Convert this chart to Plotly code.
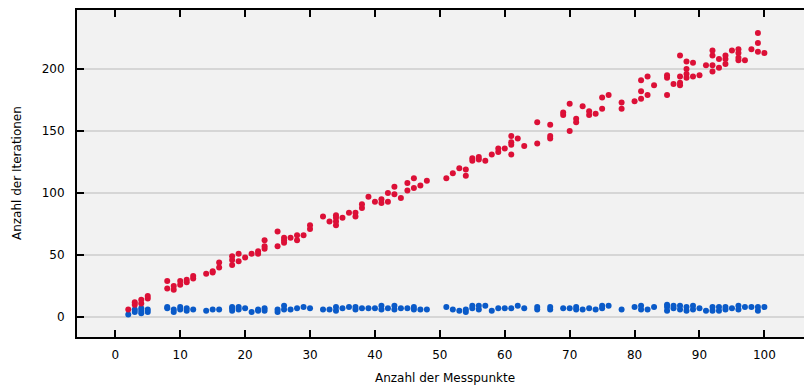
import plotly.graph_objects as go

# Red series (Anzahl der Iterationen, upper group)
red_x = [2, 3, 3, 4, 4, 5, 5, 8, 8, 9, 9, 10, 10, 11, 11, 12, 12, 14, 15, 15,
         16, 16, 18, 18, 18, 19, 19, 20, 21, 22, 22, 23, 23, 23, 25, 25, 26, 26, 26, 27,
         28, 28, 29, 30, 30, 32, 33, 34, 34, 34, 34, 35, 36, 37, 37, 38, 38, 39, 40, 41,
         41, 42, 42, 43, 43, 44, 45, 45, 46, 46, 47, 48, 51, 52, 53, 54, 54, 55, 55, 56,
         56, 57, 58, 59, 59, 60, 61, 61, 61, 61, 62, 63, 65, 65, 67, 67, 67, 69, 69, 70,
         70, 71, 71, 72, 73, 73, 74, 75, 75, 76, 78, 78, 80, 81, 81, 81, 82, 82, 83, 85,
         85, 85, 86, 87, 87, 87, 87, 88, 88, 88, 88, 89, 89, 90, 91, 92, 92, 92, 92, 93,
         93, 94, 94, 94, 95, 96, 96, 96, 96, 97, 98, 99, 99, 99, 100]
red_y = [6, 10, 12, 11, 14, 15, 17, 23, 29, 22, 25, 26, 29, 28, 30, 31, 33, 35, 36, 37,
         40, 44, 42, 46, 49, 45, 51, 48, 51, 51, 53, 55, 57, 62, 57, 69, 60, 62, 64, 64,
         62, 66, 66, 71, 74, 81, 77, 74, 77, 80, 82, 80, 84, 81, 84, 88, 91, 97, 93, 92,
         95, 93, 100, 99, 105, 96, 102, 108, 104, 112, 106, 110, 112, 116, 120, 114, 119, 126, 128, 127,
         129, 126, 131, 133, 136, 136, 131, 139, 141, 146, 144, 138, 140, 157, 144, 146, 155, 163, 165, 150,
         172, 157, 160, 170, 163, 166, 164, 168, 177, 179, 168, 173, 174, 176, 182, 191, 179, 194, 187, 179,
         193, 195, 188, 187, 189, 194, 211, 193, 196, 200, 206, 194, 205, 195, 203, 198, 203, 211, 215, 201,
         208, 204, 208, 211, 215, 207, 209, 213, 216, 207, 216, 214, 221, 229, 213]

# Blue series (lower group)
blue_x = [2, 3, 3, 4, 4, 4, 5, 5, 8, 8, 9, 9, 10, 10, 11, 11, 12, 14, 15, 16,
          18, 18, 18, 19, 19, 20, 21, 22, 22, 23, 23, 25, 25, 26, 26, 27, 28, 29, 30, 32,
          33, 34, 34, 35, 36, 37, 37, 38, 39, 40, 41, 41, 42, 43, 43, 44, 45, 46, 46, 47,
          48, 51, 52, 53, 54, 54, 55, 55, 56, 56, 57, 58, 59, 60, 61, 62, 63, 65, 65, 67,
          67, 69, 70, 71, 71, 72, 73, 74, 75, 75, 76, 78, 80, 81, 81, 82, 83, 85, 85, 85,
          86, 86, 87, 87, 88, 88, 89, 89, 90, 91, 92, 92, 93, 93, 94, 94, 95, 96, 96, 97,
          98, 99, 99, 100]
blue_y = [2, 4, 6, 3, 5, 7, 4, 6, 7, 8, 4, 6, 6, 8, 5, 7, 6, 5, 6, 6,
          5, 7, 8, 6, 8, 7, 4, 5, 6, 5, 7, 4, 6, 6, 9, 6, 7, 8, 7, 6,
          6, 5, 8, 7, 8, 6, 8, 7, 7, 7, 6, 9, 7, 6, 9, 7, 7, 6, 8, 6,
          6, 8, 6, 5, 4, 6, 7, 9, 6, 9, 9, 5, 7, 7, 7, 9, 7, 6, 8, 6,
          8, 7, 7, 6, 8, 6, 7, 6, 7, 9, 9, 6, 8, 6, 9, 6, 8, 5, 8, 10,
          7, 9, 6, 9, 5, 8, 6, 9, 7, 5, 5, 8, 5, 8, 6, 8, 7, 6, 9, 8,
          8, 5, 8, 8]

x_ticks = [0, 10, 20, 30, 40, 50, 60, 70, 80, 90, 100]
y_ticks = [0, 50, 100, 150, 200]

RED = "#DC1037"
BLUE = "#0A5AC8"

fig = go.Figure()
fig.add_trace(go.Scatter(x=blue_x, y=blue_y, mode="markers",
                         marker=dict(color=BLUE, size=6, line=dict(width=0)),
                         showlegend=False, hoverinfo="x+y"))
fig.add_trace(go.Scatter(x=red_x, y=red_y, mode="markers",
                         marker=dict(color=RED, size=6, line=dict(width=0)),
                         showlegend=False, hoverinfo="x+y"))

font = dict(family="DejaVu Sans, sans-serif", size=12, color="#000000")

fig.update_layout(
    width=804, height=387,
    margin=dict(l=77, r=0, t=10, b=50, autoexpand=False),
    paper_bgcolor="#ffffff",
    plot_bgcolor="#f2f2f2",
    font=font,
    xaxis=dict(
        range=[-5.9, 106.1],
        tickvals=x_ticks,
        ticks="inside", ticklen=7, tickwidth=2, tickcolor="#000000",
        showline=True, linecolor="#000000", linewidth=2,
        mirror="ticks",
        showgrid=False, zeroline=False,
        ticklabelstandoff=6,
        automargin=False,
    ),
    yaxis=dict(
        range=[-16.1, 247.6],
        tickvals=y_ticks,
        ticks="inside", ticklen=7, tickwidth=2, tickcolor="#000000",
        showline=True, linecolor="#000000", linewidth=2,
        mirror=False,
        showgrid=True, gridcolor="#d6d6d6", gridwidth=2,
        zeroline=False,
        ticklabelstandoff=8,
        automargin=False,
    ),
    annotations=[
        dict(text="Anzahl der Messpunkte", xref="paper", yref="paper",
             x=(445 - 77) / 727, y=(337 - 378) / 327,
             xanchor="center", yanchor="middle", showarrow=False, font=font),
        dict(text="Anzahl der Iterationen", xref="paper", yref="paper",
             x=(17 - 77) / 727, y=(337 - 173) / 327, textangle=-90,
             xanchor="center", yanchor="middle", showarrow=False, font=font),
    ],
)

fig.write_html(
    "out.html",
    config={"displayModeBar": False},
    post_script="document.body.style.margin='0';document.body.style.overflow='hidden';",
)
